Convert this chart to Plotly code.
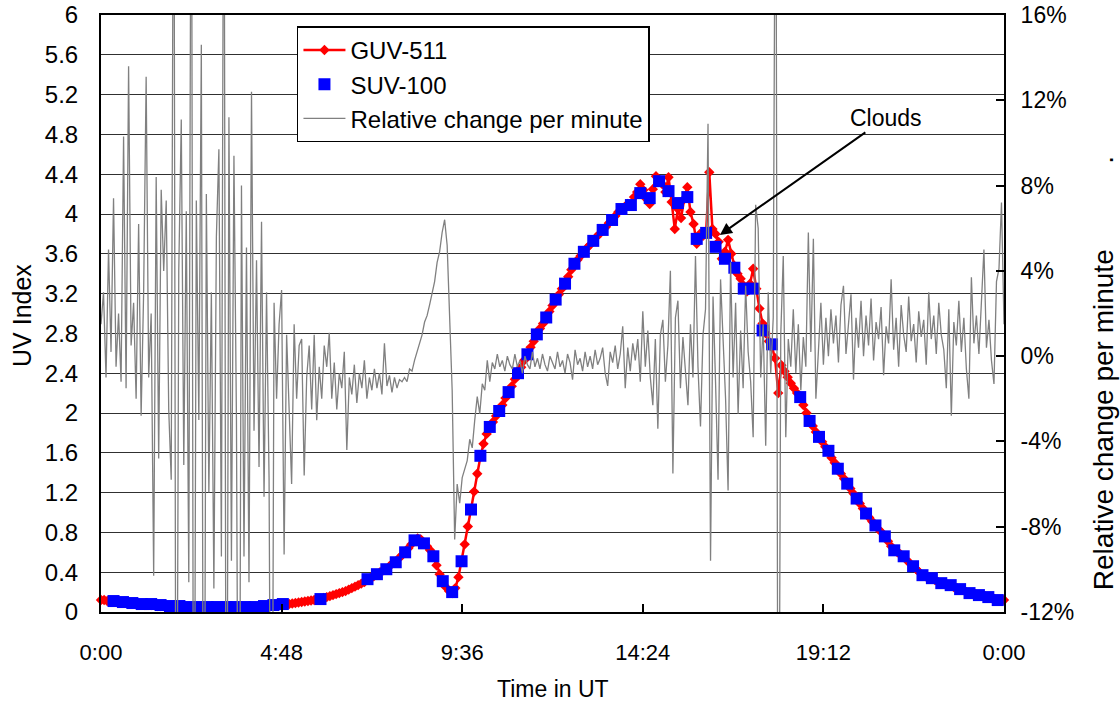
import plotly.graph_objects as go

# ---------------- data ----------------
# GUV-511 UV index, 5-minute samples from 0:00 to 24:00 (minutes 0..1440)
guv_step_min = 5
guv_uv = [
    0.12, 0.12, 0.11, 0.11, 0.11, 0.10, 0.10, 0.10, 0.09, 0.09, 0.09, 0.08,
    0.08, 0.08, 0.07, 0.07, 0.07, 0.07, 0.06, 0.06, 0.06, 0.06, 0.06, 0.05,
    0.05, 0.05, 0.05, 0.05, 0.05, 0.05, 0.05, 0.045, 0.045, 0.045, 0.045, 0.045,
    0.045, 0.045, 0.045, 0.045, 0.045, 0.045, 0.045, 0.045, 0.05, 0.05, 0.05, 0.05,
    0.05, 0.05, 0.055, 0.06, 0.06, 0.065, 0.07, 0.07, 0.075, 0.075, 0.08, 0.08,
    0.08, 0.085, 0.09, 0.095, 0.10, 0.105, 0.11, 0.115, 0.12, 0.125, 0.13, 0.14,
    0.15, 0.16, 0.17, 0.18, 0.19, 0.20, 0.21, 0.225, 0.24, 0.255, 0.27, 0.285,
    0.30, 0.33, 0.345, 0.36, 0.38, 0.40, 0.42, 0.43, 0.46, 0.49, 0.50, 0.54,
    0.57, 0.60, 0.64, 0.68, 0.72, 0.74, 0.73, 0.69, 0.66, 0.62, 0.56, 0.47,
    0.38, 0.31, 0.25, 0.21, 0.19, 0.24, 0.35, 0.51, 0.68, 0.86, 1.03, 1.21,
    1.39, 1.56, 1.69, 1.79, 1.86, 1.91, 1.97, 2.02, 2.08, 2.15, 2.21, 2.27,
    2.34, 2.40, 2.46, 2.53, 2.59, 2.66, 2.72, 2.79, 2.85, 2.90, 2.96, 3.02,
    3.08, 3.14, 3.19, 3.25, 3.30, 3.37, 3.44, 3.50, 3.54, 3.58, 3.62, 3.66,
    3.69, 3.73, 3.77, 3.80, 3.84, 3.87, 3.91, 3.94, 3.98, 4.02, 4.05, 4.07,
    4.10, 4.09, 4.17, 4.22, 4.30, 4.24, 4.15, 4.10, 4.25, 4.38, 4.34, 4.30,
    4.22, 4.37, 4.12, 3.85, 4.05, 3.96, 4.15, 4.27, 4.02, 3.90, 3.70, 3.80,
    3.78, 3.82, 4.42, 3.85, 3.80, 3.72, 3.55, 3.62, 3.74, 3.60, 3.48, 3.40,
    3.35, 3.28, 3.22, 3.30, 3.45, 3.25, 3.05, 2.90, 2.80, 2.72, 2.66, 2.55,
    2.20, 2.48, 2.42, 2.36, 2.30, 2.25, 2.20, 2.16, 2.08, 2.00, 1.93, 1.87,
    1.81, 1.76, 1.71, 1.66, 1.61, 1.55, 1.50, 1.44, 1.39, 1.34, 1.29, 1.24,
    1.19, 1.14, 1.09, 1.04, 0.99, 0.95, 0.91, 0.87, 0.83, 0.80, 0.76, 0.71,
    0.66, 0.62, 0.60, 0.58, 0.56, 0.52, 0.49, 0.46, 0.43, 0.40, 0.37, 0.36,
    0.35, 0.34, 0.32, 0.30, 0.29, 0.28, 0.27, 0.27, 0.25, 0.24, 0.23, 0.22,
    0.20, 0.19, 0.18, 0.18, 0.17, 0.16, 0.16, 0.15, 0.14, 0.13, 0.12, 0.12,
    0.12,
]

# SUV-100 UV index, every 15 minutes starting 0:20 (None = no scan)
suv_start_min = 20
suv_step_min = 15
suv_uv = [
    0.11, 0.10, 0.09, 0.08, 0.08, 0.07, 0.06, 0.06, 0.05, 0.05,
    0.05, 0.05, 0.05, 0.05, 0.05, 0.05, 0.06, 0.07, 0.08, None,
    None, None, 0.13, None, None, None, None, 0.33, 0.38, 0.43,
    0.50, 0.60, 0.72, 0.69, 0.56, 0.31, 0.20, 0.51, 1.03, 1.57,
    1.86, 2.02, 2.21, 2.40, 2.59, 2.79, 2.96, 3.14, 3.30, 3.50,
    3.62, 3.73, 3.84, 3.94, 4.05, 4.09, 4.21, 4.16, 4.33, 4.23,
    4.11, 4.17, 3.75, 3.81, 3.67, 3.55, 3.46, 3.25, 3.25, 2.83,
    2.69, None, None, 2.16, 1.92, 1.76, 1.62, 1.44, 1.29, 1.14,
    0.99, 0.87, 0.76, 0.62, 0.56, 0.46, 0.37, 0.34, 0.29, 0.27,
    0.23, 0.19, 0.17, 0.15, 0.12,
]

# Relative change per minute (%), 4-minute samples from 0:00
rel_step_min = 4
rel_change_pct = [
    1.5, 3.0, -1.0, 5.0, 0.2, 7.4, -0.5, 2.0, -1.2, 10.3,
    -1.5, 13.6, 0.5, 2.5, -2.0, 6.2, -2.8, 3.0, 13.1, -1.0,
    2.0, -10.3, 8.4, -4.8, 7.8, 4.0, 7.3, -2.5, -5.8, 30,
    -30, 4.0, 11.1, -5.1, 6.8, -10.6, 30, -30, 7.3, -3.0,
    14.6, -30, 7.6, -6.4, 3.0, -10.9, 5.6, 9.7, -9.4, 30,
    -30, 11.2, -9.6, 9.4, -3.0, -30, 8.0, -9.4, 5.1, -10.6,
    12.4, -3.5, 4.5, -5.2, 6.3, -6.6, 3.0, -5.7, -30, 2.5,
    -2.0, 1.5, 3.1, -9.3, 1.0, -2.5, -6.0, 1.5, -2.0, 0.5,
    0.8, -5.6, -1.0, 0.5, -2.5, 1.0, -3.0, -0.5, -2.0, 0.5,
    -0.5, 1.1, -2.0, -0.3, -2.5, -0.8, -1.5, 0.2, -4.4, -1.0,
    -1.8, -0.4, -2.2, -0.8, -1.5, -0.2, -2.0, -1.0, -1.6, -0.6,
    -1.5, -0.8, -1.8, 0.6, -1.4, -0.9, -1.7, -1.0, -1.5, -1.1,
    -1.2, -1.0, -1.2, -0.6, -0.7, -0.2, 0.2, 0.5, 1.0, 1.6,
    1.9, 2.4, 3.0, 3.5, 4.4, 4.9, 5.8, 6.4, 5.2, 1.5,
    -1.6, -8.6, -6.0, -6.9, -5.7, -5.3, -4.9, -3.9, -4.3, -3.0,
    -1.9, -2.7, -1.3, -1.6, -0.2, -1.2, -0.3, -0.6, 0.1, -0.5,
    -0.2, -0.7, 0.0, -0.4, -0.6, 0.1, -0.5, -0.2, -0.8, 0.0,
    -0.4, -0.6, 0.2, -0.5, -0.1, -0.6, 0.1, -0.4, -0.7, 0.0,
    -0.3, -0.6, 0.2, -0.5, -0.2, -0.8, 0.1, -0.3, -1.1, 0.3,
    -0.4, -0.1, -0.7, 0.2, -0.5, 0.0, -0.6, 0.3, -0.4, -0.1,
    0.4, -0.8, -1.4, 0.2, -0.3, 0.5, -0.6, 0.1, 1.4, -1.5,
    0.4, -0.7, 0.6, -0.2, 0.8, -1.2, 2.1, -0.5, 1.2, -1.0,
    -2.3, 0.8, -3.4, 1.0, 1.7, -1.2, 0.5, 4.0, -5.5, 1.8,
    2.6, -1.5, 0.9, -0.8, -2.3, 1.5, -1.0, 4.7, -0.5, -3.3,
    1.0, 2.2, 10.9, -9.6, 2.8, -1.2, -5.8, 3.6, 0.5, -2.0,
    -6.3, 4.4, -1.0, 2.5, -2.7, 1.2, -1.5, 3.3, 0.2, -1.2,
    -3.8, 7.1, 6.0, -1.0, 1.5, -4.2, 3.0, -0.8, 1.8, 30,
    -30, 1.0, 4.7, -3.8, 0.8, -0.5, 2.2, -0.8, 1.5, -1.6,
    0.9, -0.5, 5.8, 0.2, 5.5, -2.0, 0.2, 2.5, -0.4, 1.8,
    0.0, 2.2, 0.6, 1.9, -0.3, 2.4, 3.3, 0.1, 1.5, 2.9,
    -1.1, 1.8, 0.4, 2.6, 0.0, 1.9, 0.5, 2.7, -0.2, 1.6,
    0.8, 2.3, -0.9, 1.4, 0.6, 3.6, 0.3, 1.8, -0.5, 2.4,
    1.0, 0.2, 2.8, 0.7, 1.5, -0.3, 2.1, 0.9, 1.7, -0.4,
    3.0, 0.8, 1.9, 0.1, 2.5, 1.0, 0.3, -1.5, 2.2, -2.8,
    1.6, 0.5, 2.6, 0.2, 1.8, -0.6, -2.0, 3.7, 0.6, 1.9,
    0.1, 2.4, 5.0, 0.4, 1.7, -0.2, -1.3, 3.5, 4.1, 7.2,
    1.5,
]

x_tick_vals = [0, 288, 576, 864, 1152, 1440]
x_tick_text = ["0:00", "4:48", "9:36", "14:24", "19:12", "0:00"]
uv_tick_vals = [0, 0.4, 0.8, 1.2, 1.6, 2, 2.4, 2.8, 3.2, 3.6, 4, 4.4, 4.8, 5.2, 5.6, 6]
uv_tick_text = ["0", "0.4", "0.8", "1.2", "1.6", "2", "2.4", "2.8", "3.2", "3.6",
                "4", "4.4", "4.8", "5.2", "5.6", "6"]
rel_tick_vals = [-12, -8, -4, 0, 4, 8, 12, 16]
rel_tick_text = ["-12%", "-8%", "-4%", "0%", "4%", "8%", "12%", "16%"]

guv_t = [i * guv_step_min for i in range(len(guv_uv))]
suv_t = [suv_start_min + i * suv_step_min for i in range(len(suv_uv))]
rel_t = [i * rel_step_min for i in range(len(rel_change_pct))]

FONT = "Liberation Sans, Arial, sans-serif"
NB = "\u00a0"
# centre the one-character labels under the wider ones
uv_tick_labels = [(NB * 2 + t) if len(t) == 1 else t for t in uv_tick_text]

fig = go.Figure()
fig.add_trace(go.Scatter(
    x=guv_t, y=guv_uv, name="GUV-511", mode="lines+markers",
    line=dict(color="#FF0000", width=2.5),
    marker=dict(symbol="diamond", size=8, color="#FF0000"),
    cliponaxis=False, legendgroup="a"))
fig.add_trace(go.Scatter(
    x=suv_t, y=suv_uv, name="SUV-100", mode="markers",
    marker=dict(symbol="square", size=12, color="#0000FF"),
    legendgroup="b"))
fig.add_trace(go.Scatter(
    x=rel_t, y=rel_change_pct, name="Relative change per minute", mode="lines",
    line=dict(color="#808080", width=1.3), yaxis="y2", legendgroup="c"))

fig.update_layout(
    width=1120, height=701,
    margin=dict(l=101, r=116, t=15, b=89, autoexpand=False),
    paper_bgcolor="white", plot_bgcolor="white",
    font=dict(family=FONT, size=20, color="black"),
    xaxis=dict(range=[0, 1440], tickvals=x_tick_vals, ticktext=x_tick_text,
               automargin=False,
               showgrid=False, zeroline=False, showline=True, linecolor="black",
               linewidth=2, mirror=True, ticks="inside", ticklen=8, tickwidth=2,
               tickcolor="black", ticklabelstandoff=20,
               tickfont=dict(family=FONT, size=22)),
    # left axis: labels pushed away from the frame with invisible outside ticks
    yaxis=dict(range=[0, 6], tickvals=uv_tick_vals, ticktext=uv_tick_labels,
               automargin=False,
               showgrid=True, gridcolor="#303030", gridwidth=1, zeroline=False,
               showline=True, linecolor="black", linewidth=2, mirror=True,
               ticks="outside", ticklen=16, tickwidth=1,
               tickcolor="rgba(0,0,0,0)",
               tickfont=dict(family=FONT, size=24)),
    # inside tick marks on the left frame
    yaxis3=dict(range=[0, 6], tickvals=uv_tick_vals, overlaying="y", side="left",
                automargin=False, showgrid=False, zeroline=False, showline=False,
                showticklabels=False, ticks="inside", ticklen=8, tickwidth=2,
                tickcolor="black"),
    yaxis2=dict(range=[-12, 16], tickvals=rel_tick_vals, ticktext=rel_tick_text,
                automargin=False,
                overlaying="y", side="right", showgrid=False, zeroline=False,
                showline=True, linecolor="black", linewidth=2,
                ticks="inside", ticklen=8, tickwidth=2, tickcolor="black",
                ticklabelstandoff=10, tickfont=dict(family=FONT, size=23)),
    legend=dict(x=0.217, y=0.981, xanchor="left", yanchor="top",
                bgcolor="white", bordercolor="black", borderwidth=1.5,
                font=dict(family=FONT, size=24, color="black"),
                traceorder="grouped", tracegroupgap=0, itemwidth=42),
    annotations=[
        dict(text="UV Index", xref="paper", yref="paper", x=-0.0875, y=0.4975,
             xanchor="center", yanchor="middle",
             textangle=-90, showarrow=False, font=dict(family=FONT, size=25)),
        dict(text="Time in UT", xref="paper", yref="paper", x=0.5006, y=-0.129,
             xanchor="center", yanchor="middle",
             showarrow=False, font=dict(family=FONT, size=23)),
        dict(text="Relative change per minute" + NB * 11 + ".", xref="paper",
             yref="paper", x=1.1096, y=0.400, xanchor="center", yanchor="middle",
             textangle=-90, showarrow=False, font=dict(family=FONT, size=28)),
        dict(text="Clouds", x=987, y=3.79, xref="x", yref="y",
             ax=166, ay=-117, showarrow=True, arrowhead=2, arrowsize=1.2,
             arrowwidth=2, arrowcolor="black", font=dict(family=FONT, size=23)),
    ],
)

fig.write_html("out.html", config={"displayModeBar": False},
               post_script="document.body.style.margin='0px';")
